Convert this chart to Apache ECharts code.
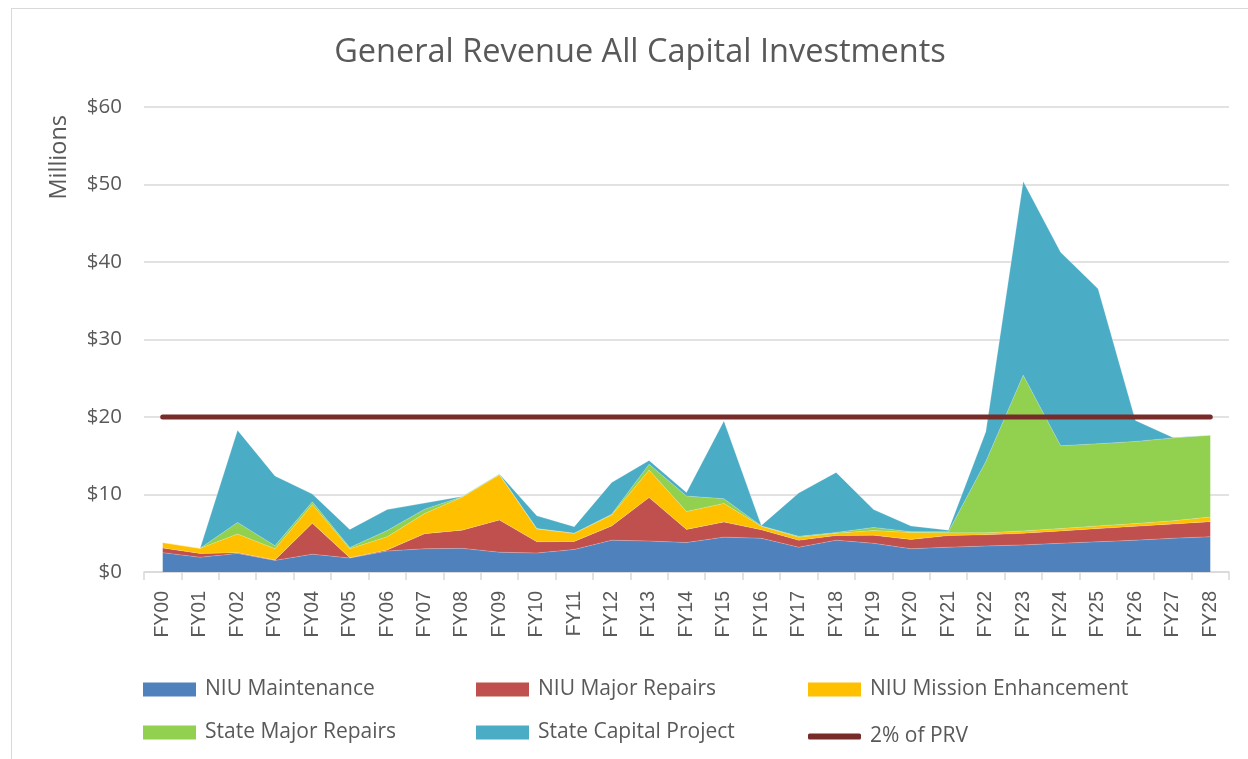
<!DOCTYPE html>
<html>
<head>
<meta charset="utf-8">
<script src="https://cdn.jsdelivr.net/npm/echarts@6/dist/echarts.min.js"></script>
<style>
html,body{margin:0;padding:0;background:#fff;}
#frame{position:absolute;left:11px;top:8px;width:1260px;height:780px;border-left:1.5px solid #d9d9d9;border-top:1.5px solid #d9d9d9;}
#chart{position:absolute;left:0;top:0;width:1248px;height:759px;}
</style>
</head>
<body>
<div id="frame"></div>
<div id="chart"></div>
<script>
const categories = ['FY00','FY01','FY02','FY03','FY04','FY05','FY06','FY07','FY08','FY09','FY10','FY11','FY12','FY13','FY14','FY15','FY16','FY17','FY18','FY19','FY20','FY21','FY22','FY23','FY24','FY25','FY26','FY27','FY28'];
const niuMaintenance = [2.5,1.9,2.4,1.5,2.3,1.8,2.7,3.0,3.05,2.55,2.45,2.9,4.1,4.0,3.8,4.5,4.35,3.2,4.1,3.7,3.0,3.2,3.35,3.5,3.7,3.9,4.1,4.35,4.55];
const niuMajorRepairs = [0.6,0.5,0.1,0.05,4.0,0.05,0.15,1.95,2.35,4.15,1.45,1.05,1.85,5.6,1.7,1.95,1.1,0.9,0.6,1.05,1.2,1.5,1.45,1.5,1.6,1.7,1.8,1.85,1.95];
const niuMissionEnhancement = [0.7,0.65,2.4,1.45,2.4,1.15,1.7,2.6,4.25,5.85,1.65,1.05,1.4,3.55,2.3,2.4,0.45,0.4,0.3,0.6,0.9,0.35,0.25,0.3,0.3,0.35,0.35,0.4,0.6];
const stateMajorRepairs = [0,0,1.5,0.4,0.35,0.15,0.8,0.55,0.05,0.05,0.05,0,0.1,0.75,2.0,0.6,0.05,0.1,0.1,0.4,0.1,0.15,9.2,20.1,10.7,10.6,10.6,10.7,10.55];
const stateCapitalProject = [0,0,11.9,9.0,1.0,2.35,2.7,0.8,0.05,0.05,1.65,0.85,4.1,0.5,0.45,10.05,0.05,5.6,7.75,2.3,0.75,0.2,3.85,25.0,24.95,20.0,2.7,0.05,0];
const prv2pct = [20,20,20,20,20,20,20,20,20,20,20,20,20,20,20,20,20,20,20,20,20,20,20,20,20,20,20,20,20];
const yTicks = [0,10,20,30,40,50,60];

const TXT = '#595959';
const FONT = '"Open Sans", sans-serif';
const chart = echarts.init(document.getElementById('chart'), null, {renderer:'canvas'});

function areaSeries(name, data, color){
  return {name:name,type:'line',stack:'total',data:data,symbol:'none',
    lineStyle:{width:0.6,color:'rgba(255,255,255,0.35)'},
    areaStyle:{color:color,opacity:1},itemStyle:{color:color},z:2};
}
function legendItem(name,left,top,isLine){
  return {data:[name],left:left,top:top,itemWidth:53,itemHeight:isLine?6:14,itemGap:0,
    icon:isLine?'roundRect':'rect',selectedMode:false,padding:0,
    textStyle:{color:TXT,fontSize:21,fontFamily:FONT,padding:[0,0,0,4]}};
}
chart.setOption({
  animation:false,
  title:{text:'General Revenue All Capital Investments',left:635,top:31,textAlign:'center',
    textStyle:{color:TXT,fontSize:32.5,fontWeight:'normal',fontFamily:FONT}},
  graphic:[{type:'text',left:47,top:115,rotation:Math.PI/2,
    style:{text:'Millions',fill:TXT,font:'23.5px "Open Sans", sans-serif'}}],
  legend:[
    legendItem('NIU Maintenance',143,679,false),
    legendItem('NIU Major Repairs',476,679,false),
    legendItem('NIU Mission Enhancement',808,679,false),
    legendItem('State Major Repairs',143,722,false),
    legendItem('State Capital Project',476,722,false),
    legendItem('2% of PRV',808,726,true)
  ],
  grid:{left:144,right:19,top:107,bottom:187,containLabel:false},
  xAxis:{type:'category',data:categories,boundaryGap:true,
    axisLine:{lineStyle:{color:'#d9d9d9',width:1.5}},
    axisTick:{show:true,length:8,interval:0,lineStyle:{color:'#d9d9d9',width:1.5}},
    axisLabel:{rotate:90,interval:0,color:TXT,fontSize:19.5,fontFamily:'"Liberation Sans", Arial, sans-serif',margin:19}},
  yAxis:{type:'value',min:yTicks[0],max:yTicks[yTicks.length-1],interval:10,
    axisLine:{show:false},axisTick:{show:false},
    splitLine:{lineStyle:{color:'#d9d9d9',width:1.5}},
    axisLabel:{formatter:v=>'$'+v,color:TXT,fontSize:20.5,fontFamily:FONT,margin:22}},
  series:[
    areaSeries('NIU Maintenance',niuMaintenance,'#4F81BD'),
    areaSeries('NIU Major Repairs',niuMajorRepairs,'#C0504D'),
    areaSeries('NIU Mission Enhancement',niuMissionEnhancement,'#FFC000'),
    areaSeries('State Major Repairs',stateMajorRepairs,'#92D050'),
    areaSeries('State Capital Project',stateCapitalProject,'#4BACC6'),
    {name:'2% of PRV',type:'line',data:prv2pct,symbol:'none',
      lineStyle:{color:'#772C2A',width:5,cap:'round'},itemStyle:{color:'#772C2A'},z:5}
  ]
});
</script>
</body>
</html>
